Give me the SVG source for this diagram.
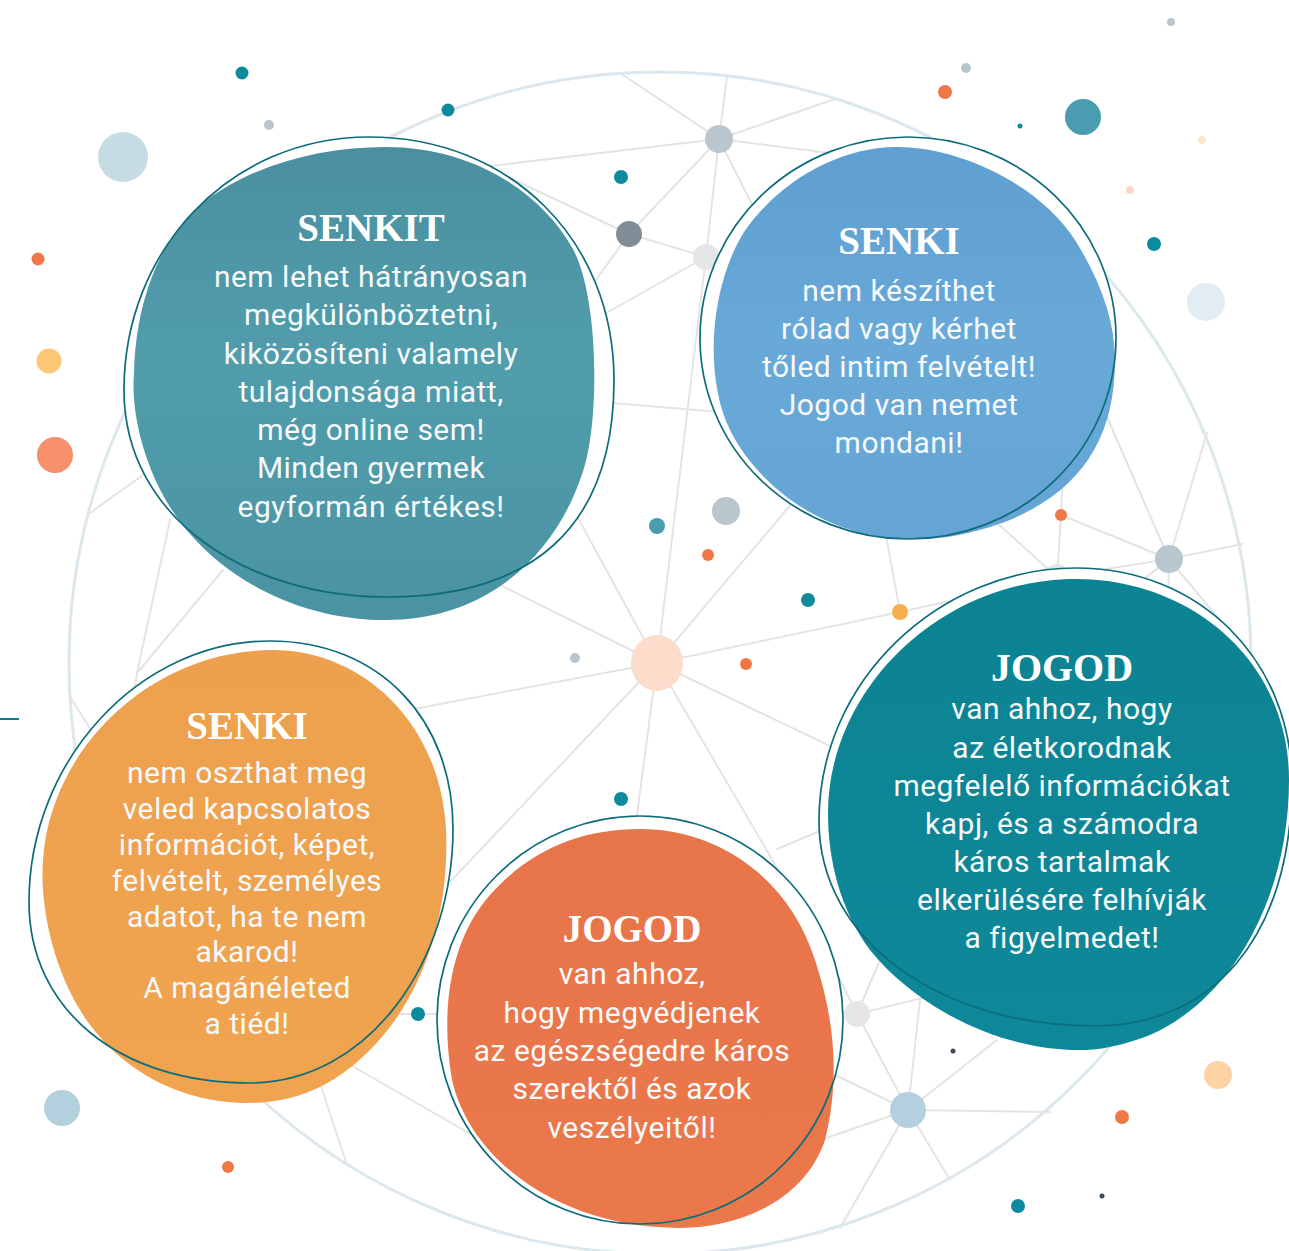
<svg xmlns="http://www.w3.org/2000/svg" width="1289" height="1251" viewBox="0 0 1289 1251">
<defs>
<style>
.net line{stroke:#e4e4e4;stroke-width:2;stroke-linecap:round}
.ring{fill:#ffffff;stroke:none}
.ol{fill:none;stroke:#0d6c7b;stroke-width:1.7}
.title{font-family:"Liberation Serif","DejaVu Serif",serif;font-weight:bold;font-size:39px;fill:#ffffff;text-anchor:middle}
.body{font-family:Roboto,"Liberation Sans",sans-serif;font-size:30px;letter-spacing:0.5px;fill:#f6f9fa;text-anchor:middle}
.teal{fill:#0e8a9e}.gray{fill:#b9c6cd}.org{fill:#f07846}.lgray{fill:#e4e6e8}
</style>
<linearGradient id="g1" x1="0" y1="0" x2="0" y2="1"><stop offset="0" stop-color="#4a8fa0"/><stop offset="0.45" stop-color="#519dac"/><stop offset="1" stop-color="#4a93a3"/></linearGradient>
<linearGradient id="g2" x1="0" y1="0" x2="0" y2="1"><stop offset="0" stop-color="#5f9fd1"/><stop offset="0.5" stop-color="#68a9d8"/><stop offset="1" stop-color="#64a5d5"/></linearGradient>
<linearGradient id="g3" x1="0" y1="0" x2="0" y2="1"><stop offset="0" stop-color="#eda04d"/><stop offset="1" stop-color="#f0a450"/></linearGradient>
<linearGradient id="g4" x1="0" y1="0" x2="0" y2="1"><stop offset="0" stop-color="#0c8393"/><stop offset="1" stop-color="#0e8899"/></linearGradient>
<linearGradient id="g5" x1="0" y1="0" x2="0" y2="1"><stop offset="0" stop-color="#e8754a"/><stop offset="1" stop-color="#ea784b"/></linearGradient>
</defs>
<rect width="1289" height="1251" fill="#ffffff"/>

<g id="network" class="net">
<line x1="719" y1="139" x2="620" y2="73"/>
<line x1="719" y1="139" x2="727" y2="76"/>
<line x1="719" y1="139" x2="835" y2="99"/>
<line x1="719" y1="139" x2="490" y2="166"/>
<line x1="719" y1="139" x2="629" y2="234"/>
<line x1="719" y1="139" x2="706" y2="257"/>
<line x1="719" y1="139" x2="997" y2="174"/>
<line x1="719" y1="139" x2="790" y2="280"/>
<line x1="629" y1="234" x2="510" y2="178"/>
<line x1="629" y1="234" x2="706" y2="257"/>
<line x1="629" y1="234" x2="560" y2="330"/>
<line x1="706" y1="257" x2="540" y2="350"/>
<line x1="706" y1="257" x2="657" y2="663"/>
<line x1="706" y1="257" x2="780" y2="250"/>
<line x1="600" y1="402" x2="720" y2="412"/>
<line x1="657" y1="663" x2="500" y2="375"/>
<line x1="657" y1="663" x2="460" y2="565"/>
<line x1="657" y1="663" x2="414" y2="709"/>
<line x1="657" y1="663" x2="450" y2="882"/>
<line x1="657" y1="663" x2="635" y2="830"/>
<line x1="657" y1="663" x2="790" y2="890"/>
<line x1="657" y1="663" x2="880" y2="770"/>
<line x1="657" y1="663" x2="900" y2="612"/>
<line x1="657" y1="663" x2="820" y2="470"/>
<line x1="900" y1="612" x2="885" y2="530"/>
<line x1="900" y1="612" x2="1057" y2="577"/>
<line x1="1057" y1="577" x2="1169" y2="559"/>
<line x1="1061" y1="515" x2="1063" y2="470"/>
<line x1="1061" y1="515" x2="1057" y2="577"/>
<line x1="1061" y1="515" x2="1169" y2="559"/>
<line x1="1169" y1="559" x2="1107" y2="417"/>
<line x1="1169" y1="559" x2="1207" y2="433"/>
<line x1="1169" y1="559" x2="1242" y2="544"/>
<line x1="1169" y1="559" x2="1168" y2="610"/>
<line x1="1169" y1="559" x2="1253" y2="660"/>
<line x1="1169" y1="559" x2="1130" y2="590"/>
<line x1="997" y1="523" x2="1047" y2="568"/>
<line x1="87" y1="515" x2="150" y2="470"/>
<line x1="170" y1="520" x2="137" y2="673"/>
<line x1="223" y1="570" x2="137" y2="673"/>
<line x1="137" y1="673" x2="130" y2="720"/>
<line x1="70" y1="697" x2="93" y2="733"/>
<line x1="320" y1="1083" x2="347" y2="1165"/>
<line x1="347" y1="1063" x2="493" y2="1147"/>
<line x1="390" y1="1014" x2="460" y2="1014"/>
<line x1="777" y1="849" x2="872" y2="809"/>
<line x1="857" y1="1014" x2="830" y2="960"/>
<line x1="857" y1="1014" x2="880" y2="960"/>
<line x1="857" y1="1014" x2="825" y2="1010"/>
<line x1="857" y1="1014" x2="935" y2="995"/>
<line x1="857" y1="1014" x2="908" y2="1110"/>
<line x1="908" y1="1110" x2="920" y2="1000"/>
<line x1="908" y1="1110" x2="997" y2="1040"/>
<line x1="908" y1="1110" x2="1050" y2="1112"/>
<line x1="908" y1="1110" x2="950" y2="1180"/>
<line x1="908" y1="1110" x2="840" y2="1228"/>
<line x1="908" y1="1110" x2="820" y2="1140"/>
<line x1="908" y1="1110" x2="835" y2="1075"/>
</g>

<circle id="globe" cx="660" cy="663" r="591" fill="none" stroke="#dce8ee" stroke-width="3"/>
<line id="tick" x1="0" y1="719" x2="19" y2="719" stroke="#0e7a8a" stroke-width="2"/>

<g id="dots">
<circle class="gray" cx="719" cy="139" r="14"/>
<circle cx="629" cy="234" r="13" fill="#808d97"/>
<circle class="lgray" cx="706" cy="257" r="13"/>
<ellipse cx="657" cy="663" rx="26" ry="28" fill="#fcdcca"/>
<circle cx="900" cy="612" r="8" fill="#f6b04d"/>
<circle class="gray" cx="1169" cy="559" r="14"/>
<circle class="lgray" cx="1057" cy="577" r="13"/>
<circle class="lgray" cx="857" cy="1014" r="13"/>
<circle cx="908" cy="1110" r="18" fill="#b3d0df"/>
<circle class="teal" cx="242" cy="73" r="6.5"/>
<circle class="teal" cx="448" cy="110" r="6.5"/>
<circle class="gray" cx="269" cy="125" r="5"/>
<circle cx="123" cy="157" r="25" fill="#c5dce4"/>
<circle class="org" cx="38" cy="259" r="6.5"/>
<circle cx="49" cy="361" r="12.5" fill="#fdc777"/>
<circle cx="55" cy="455" r="18" fill="#f5906a"/>
<circle class="teal" cx="621" cy="177" r="7"/>
<circle class="gray" cx="1171" cy="22" r="4"/>
<circle class="gray" cx="966" cy="68" r="5"/>
<circle class="org" cx="945" cy="92" r="7"/>
<circle cx="1083" cy="117" r="18" fill="#4a9db0"/>
<circle class="teal" cx="1020" cy="126" r="2.5"/>
<circle cx="1202" cy="140" r="4" fill="#fde6c9"/>
<circle cx="1130" cy="190" r="4" fill="#fcd5c2"/>
<circle class="teal" cx="1154" cy="244" r="7"/>
<circle cx="1206" cy="302" r="19" fill="#e2edf3"/>
<circle cx="657" cy="526" r="8" fill="#4a9db0"/>
<circle class="gray" cx="726" cy="511" r="14"/>
<circle class="org" cx="708" cy="555" r="6"/>
<circle class="teal" cx="808" cy="600" r="7"/>
<circle class="org" cx="746" cy="664" r="6"/>
<circle class="gray" cx="575" cy="658" r="5"/>
<circle class="teal" cx="621" cy="799" r="7"/>
<circle class="org" cx="1061" cy="515" r="6"/>
<circle class="teal" cx="418" cy="1014" r="7"/>
<circle cx="953" cy="1051" r="2.5" fill="#3d4a5a"/>
<circle cx="1218" cy="1075" r="14" fill="#fdd3a6"/>
<circle class="org" cx="1122" cy="1117" r="7"/>
<circle class="teal" cx="1018" cy="1206" r="7"/>
<circle cx="1102" cy="1196" r="2.5" fill="#3d4a5a"/>
<circle cx="62" cy="1108" r="18" fill="#b3d0df"/>
<circle class="org" cx="228" cy="1167" r="6"/>
</g>

<g id="node-senkit">
<path class="ring" d="M 369 137 C 510 137 614 240 614 380 C 614 530 530 597 386 597 C 250 597 124 520 124 390 C 124 250 230 137 369 137 Z"/>
<path fill="url(#g1)" d="M 386 147 C 470 147 540 190 573 249 C 600 300 600 430 581 477 C 560 540 500 620 386 620 C 300 620 230 580 191 535 C 150 490 130 420 134 373 C 136 300 160 240 200 205 C 250 165 320 147 386 147 Z"/>
<path class="ol" d="M 369 137 C 510 137 614 240 614 380 C 614 530 530 597 386 597 C 250 597 124 520 124 390 C 124 250 230 137 369 137 Z"/>
<text class="title" x="371" y="241">SENKIT</text>
<text class="body" x="371" y="287">nem lehet hátrányosan</text>
<text class="body" x="371" y="325">megkülönböztetni,</text>
<text class="body" x="371" y="364">kiközösíteni valamely</text>
<text class="body" x="371" y="402">tulajdonsága miatt,</text>
<text class="body" x="371" y="440">még online sem!</text>
<text class="body" x="371" y="478">Minden gyermek</text>
<text class="body" x="371" y="517">egyformán értékes!</text>
</g>

<g id="node-senki-blue">
<ellipse class="ring" cx="908" cy="338" rx="208" ry="201"/>
<path fill="url(#g2)" d="M 897 147 C 960 147 1040 185 1075 240 C 1100 280 1115 320 1115 360 C 1115 440 1080 490 1010 520 C 970 535 940 540 910 539 C 830 539 760 490 730 430 C 705 380 708 290 744 232 C 780 180 840 147 897 147 Z"/>
<ellipse class="ol" cx="908" cy="338" rx="208" ry="201"/>
<text class="title" x="899" y="254">SENKI</text>
<text class="body" x="899" y="301">nem készíthet</text>
<text class="body" x="899" y="339">rólad vagy kérhet</text>
<text class="body" x="899" y="377">tőled intim felvételt!</text>
<text class="body" x="899" y="415">Jogod van nemet</text>
<text class="body" x="899" y="453">mondani!</text>
</g>

<g id="node-senki-orange">
<path class="ring" d="M 270 641 C 380 641 453 720 453 829 C 453 960 370 1083 249 1083 C 120 1083 29 1010 29 902 C 29 760 140 641 270 641 Z"/>
<path fill="url(#g3)" d="M 273 650 C 360 650 440 720 446 829 C 450 920 420 1000 370 1050 C 330 1090 290 1103 248 1103 C 170 1103 110 1060 80 1010 C 50 960 40 900 43 860 C 50 750 150 650 273 650 Z"/>
<path class="ol" d="M 270 641 C 380 641 453 720 453 829 C 453 960 370 1083 249 1083 C 120 1083 29 1010 29 902 C 29 760 140 641 270 641 Z"/>
<text class="title" x="247" y="739">SENKI</text>
<text class="body" x="247" y="783">nem oszthat meg</text>
<text class="body" x="247" y="819">veled kapcsolatos</text>
<text class="body" x="247" y="855">információt, képet,</text>
<text class="body" x="247" y="891">felvételt, személyes</text>
<text class="body" x="247" y="927">adatot, ha te nem</text>
<text class="body" x="247" y="962">akarod!</text>
<text class="body" x="247" y="998">A magánéleted</text>
<text class="body" x="247" y="1034">a tiéd!</text>
</g>

<g id="node-jogod-teal">
<path class="ring" d="M 1076 568 C 1200 568 1290 660 1292 780 C 1292 940 1210 1026 1095 1026 C 940 1026 819 940 819 821 C 819 680 940 568 1076 568 Z"/>
<path fill="url(#g4)" d="M 1076 579 C 1190 579 1289 660 1289 780 C 1289 900 1230 1000 1150 1035 C 1110 1050 1090 1050 1080 1050 C 990 1050 910 1000 870 950 C 840 910 828 860 828 813 C 828 690 940 579 1076 579 Z"/>
<path class="ol" d="M 1076 568 C 1200 568 1290 660 1292 780 C 1292 940 1210 1026 1095 1026 C 940 1026 819 940 819 821 C 819 680 940 568 1076 568 Z"/>
<text class="title" x="1062" y="681" style="font-size:40px">JOGOD</text>
<text class="body" x="1062" y="719">van ahhoz, hogy</text>
<text class="body" x="1062" y="758">az életkorodnak</text>
<text class="body" x="1062" y="796">megfelelő információkat</text>
<text class="body" x="1062" y="834">kapj, és a számodra</text>
<text class="body" x="1062" y="872">káros tartalmak</text>
<text class="body" x="1062" y="910">elkerülésére felhívják</text>
<text class="body" x="1062" y="948">a figyelmedet!</text>
</g>

<g id="node-jogod-orange">
<ellipse class="ring" cx="640" cy="1020" rx="203" ry="204"/>
<path fill="url(#g5)" d="M 640 829 C 720 829 790 880 815 960 C 835 1020 840 1080 825 1140 C 805 1200 740 1228 680 1228 C 560 1228 470 1160 452 1080 C 440 1010 450 940 490 895 C 530 850 580 829 640 829 Z"/>
<ellipse class="ol" cx="640" cy="1020" rx="203" ry="204"/>
<text class="title" x="632" y="942">JOGOD</text>
<text class="body" x="632" y="984">van ahhoz,</text>
<text class="body" x="632" y="1023">hogy megvédjenek</text>
<text class="body" x="632" y="1061">az egészségedre káros</text>
<text class="body" x="632" y="1099">szerektől és azok</text>
<text class="body" x="632" y="1138">veszélyeitől!</text>
</g>
</svg>
